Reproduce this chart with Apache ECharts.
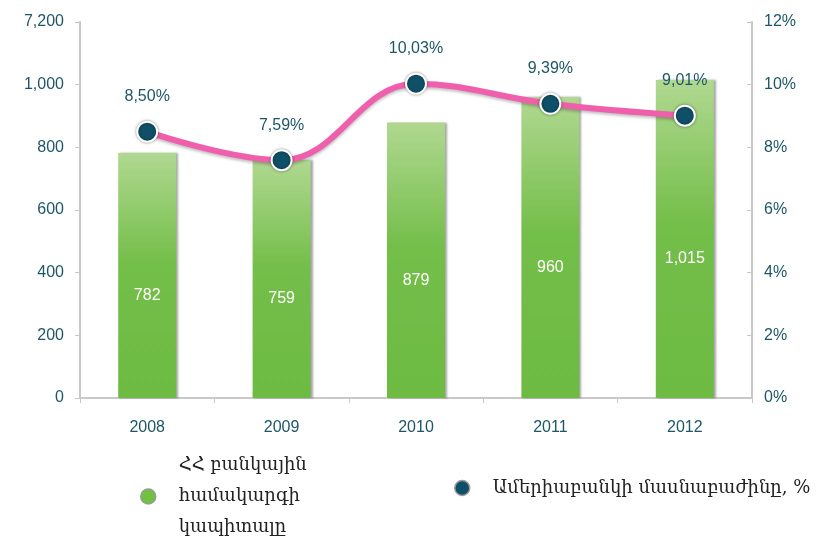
<!DOCTYPE html>
<html>
<head>
<meta charset="utf-8">
<script src="https://cdn.jsdelivr.net/npm/echarts@6/dist/echarts.min.js"></script>
<style>
    html, body {margin: 0; padding: 0; background: #fff;}
    #chart {width: 821px; height: 547px;}
</style>
</head>
<body>
<div id="chart"></div>
<script>
var years = ['2008', '2009', '2010', '2011', '2012'];
var capital = [782, 759, 879, 960, 1015];
var share = [8.50, 7.59, 10.03, 9.39, 9.01];
var leftTicks = ['0', '200', '400', '600', '800', '1,000', '7,200'];
var capitalName = 'ՀՀ բանկային\nհամակարգի\nկապիտալը';
var shareName = 'Ամերիաբանկի մասնաբաժինը, %';

var teal = '#1f5568';
var axisGray = '#c9c9c9';

var chart = echarts.init(document.getElementById('chart'));
chart.setOption({
    animation: false,
    textStyle: {fontFamily: 'Liberation Sans, Arial, sans-serif'},
    grid: {left: 80, right: 69, top: 22, bottom: 149},
    legend: [
        {
            data: [capitalName],
            left: 135, top: 445,
            icon: 'circle',
            itemWidth: 15, itemHeight: 15,
            itemStyle: {color: '#6fc13f', borderColor: '#9a9a9a', borderWidth: 1.5},
            textStyle: {fontFamily: 'DejaVu Serif, serif', fontSize: 18, color: '#222', lineHeight: 31, padding: [0, 0, 0, 18]}
        },
        {
            data: [shareName],
            left: 449, top: 473,
            icon: 'circle',
            itemWidth: 15, itemHeight: 15,
            itemStyle: {borderColor: '#9a9a9a', borderWidth: 1.5},
            textStyle: {fontFamily: 'DejaVu Serif, serif', fontSize: 18, color: '#222', lineHeight: 20, padding: [0, 0, 0, 18]}
        }
    ],
    xAxis: {
        type: 'category',
        data: years,
        axisLine: {lineStyle: {color: axisGray, width: 2}},
        axisTick: {show: true, alignWithLabel: false, length: 5, lineStyle: {color: axisGray}},
        axisLabel: {color: teal, fontSize: 16, margin: 22}
    },
    yAxis: [
        {
            type: 'value',
            min: 0, max: 1200, interval: 200,
            axisLine: {show: true, lineStyle: {color: axisGray, width: 2}},
            axisTick: {show: true, length: 5, lineStyle: {color: axisGray}},
            splitLine: {show: false},
            axisLabel: {
                color: teal, fontSize: 16, margin: 16,
                formatter: function (v) { return leftTicks[Math.round(v / 200)]; }
            }
        },
        {
            type: 'value',
            min: 0, max: 12, interval: 2,
            position: 'right',
            axisLine: {show: true, lineStyle: {color: axisGray, width: 2}},
            axisTick: {show: true, length: 5, inside: true, lineStyle: {color: axisGray}},
            splitLine: {show: false},
            axisLabel: {color: teal, fontSize: 16, margin: 12, formatter: '{value}%'}
        }
    ],
    series: [
        {
            name: capitalName,
            type: 'bar',
            data: capital,
            barWidth: 58,
            itemStyle: {
                color: new echarts.graphic.LinearGradient(0, 0, 0, 1, [
                    {offset: 0, color: '#b0d890'},
                    {offset: 0.45, color: '#74be4a'},
                    {offset: 1, color: '#6dbb42'}
                ]),
                shadowColor: 'rgba(0,0,0,0.35)',
                shadowBlur: 2,
                shadowOffsetX: 2
            },
            label: {
                show: true,
                position: 'inside',
                offset: [0, 20],
                color: '#fff',
                fontSize: 16,
                formatter: function (p) { return p.value.toLocaleString('en-US'); }
            }
        },
        {
            name: shareName,
            type: 'line',
            yAxisIndex: 1,
            data: share,
            smooth: 0.4,
            symbol: 'circle',
            symbolSize: 20,
            lineStyle: {
                color: '#ef5fac', width: 6,
                shadowColor: 'rgba(0,0,0,0.25)', shadowBlur: 3, shadowOffsetY: 2
            },
            itemStyle: {
                color: '#0f5068', borderColor: '#fff', borderWidth: 2,
                shadowColor: 'rgba(0,0,0,0.4)', shadowBlur: 3
            },
            label: {
                show: true,
                position: 'top',
                distance: 16,
                color: teal,
                fontSize: 16,
                formatter: function (p) { return p.value.toFixed(2).replace('.', ',') + '%'; }
            }
        }
    ]
});
</script>
</body>
</html>
